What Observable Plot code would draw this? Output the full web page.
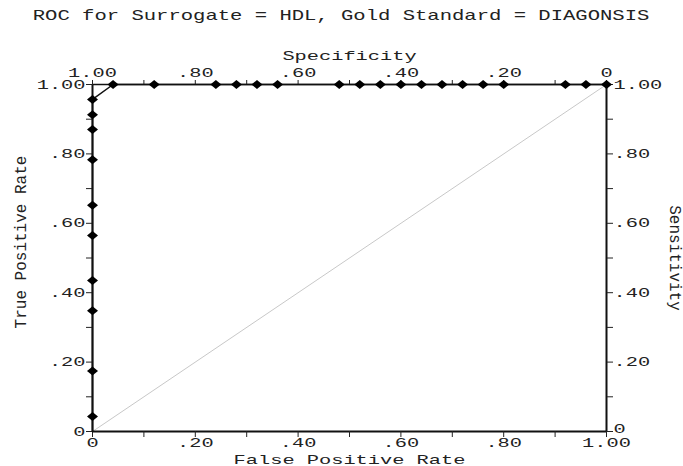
<!DOCTYPE html>
<html>
<head>
<meta charset="utf-8">
<script src="https://cdn.jsdelivr.net/npm/d3@7"></script>
<script src="https://cdn.jsdelivr.net/npm/@observablehq/plot@0.6"></script>
<style>
  html, body { margin: 0; padding: 0; background: #fff; }
  #title { height: 34px; font-family: "Liberation Mono", monospace; font-size: 15px; line-height: 34px; text-align: center; color: #222; }
  #title span { display: inline-block; transform: scaleX(1.37); }
</style>
</head>
<body>
<div id="title"><span>ROC for Surrogate = HDL, Gold Standard = DIAGONSIS</span></div>
<div id="chart"></div>
<script>
// Data
const tprAtZeroFpr = [0.043, 0.174, 0.348, 0.435, 0.565, 0.652, 0.783, 0.870, 0.913, 0.957];
const fprAtFullTpr = [0.04, 0.12, 0.24, 0.28, 0.32, 0.36, 0.48, 0.52, 0.56, 0.60, 0.64, 0.68, 0.72, 0.76, 0.80, 0.92, 0.96, 1.00];
const majorTicks = [0, 0.2, 0.4, 0.6, 0.8, 1.0];
const minorTicks = [0.1, 0.3, 0.5, 0.7, 0.9];
const xLabel = "False Positive Rate";
const yLabel = "True Positive Rate";
const topLabel = "Specificity";
const rightLabel = "Sensitivity";

const points = [
  ...tprAtZeroFpr.map(t => ({fpr: 0, tpr: t})),
  ...fprAtFullTpr.map(f => ({fpr: f, tpr: 1}))
];
const curve = [{fpr: 0, tpr: 0}, ...points];
const diagonal = [{fpr: 0, tpr: 0}, {fpr: 1, tpr: 1}];

const fmt = v => {
  const r = Math.round(v * 100) / 100;
  if (r === 0) return "0";
  if (r === 1) return "1.00";
  return d3.format(".2f")(r).slice(1);
};

const wideDiamond = {
  draw(ctx) {
    const w = 5.5, h = 4.5;
    ctx.moveTo(-w, 0); ctx.lineTo(0, -h); ctx.lineTo(w, 0); ctx.lineTo(0, h); ctx.closePath();
  }
};

const ink = "#222";
const mono = "'Liberation Mono', monospace";
const fs = 13;
const axisCommon = {tickSize: 6, stroke: ink, fill: ink, label: null, fontSize: fs};

const chart = Plot.plot({
  width: 683,
  height: 432,
  marginLeft: 92,
  marginRight: 77,
  marginTop: 50,
  marginBottom: 35,
  style: {fontFamily: mono, fontSize: fs + "px", color: ink, background: "#fff"},
  x: {domain: [0, 1]},
  y: {domain: [0, 1]},
  marks: [
    Plot.line(diagonal, {x: "fpr", y: "tpr", stroke: "#c8c8c8", strokeWidth: 1}),
    // axes frame lines
    Plot.ruleX([0], {stroke: "#111", strokeWidth: 2}),
    Plot.ruleY([0], {stroke: "#111", strokeWidth: 2}),
    Plot.ruleX([1], {stroke: "#111", strokeWidth: 2}),
    Plot.ruleY([1], {stroke: "#111", strokeWidth: 1.5}),
    // bottom axis
    Plot.axisX({...axisCommon, anchor: "bottom", ticks: majorTicks, tickFormat: fmt, tickSize: 0, tickPadding: 6}),
    Plot.axisX({...axisCommon, anchor: "bottom", ticks: [...majorTicks, ...minorTicks], tickFormat: () => ""}),
    // top axis (specificity)
    Plot.axisX({...axisCommon, anchor: "top", ticks: majorTicks, tickFormat: d => fmt(1 - d), tickSize: 0, tickPadding: 8}),
    Plot.axisX({...axisCommon, anchor: "top", ticks: [...majorTicks, ...minorTicks], tickFormat: () => "", tickSize: 5}),
    // left axis
    Plot.axisY({...axisCommon, anchor: "left", ticks: majorTicks, tickFormat: fmt, tickPadding: 1}),
    Plot.axisY({...axisCommon, anchor: "left", ticks: minorTicks, tickFormat: () => ""}),
    // right axis (sensitivity)
    Plot.axisY({...axisCommon, anchor: "right", ticks: majorTicks, tickFormat: () => ""}),
    Plot.axisY({...axisCommon, anchor: "right", ticks: majorTicks.slice(1), tickFormat: fmt, tickSize: 0, tickPadding: 7}),
    Plot.axisY({...axisCommon, anchor: "right", ticks: majorTicks.slice(0, 1), tickFormat: fmt, tickSize: 0, tickPadding: 7, dy: -3}),
    Plot.axisY({...axisCommon, anchor: "right", ticks: minorTicks, tickFormat: () => ""}),
    // ROC curve
    Plot.line(curve, {x: "fpr", y: "tpr", stroke: "#111", strokeWidth: 1.5}),
    Plot.dot(points, {x: "fpr", y: "tpr", symbol: wideDiamond, fill: "#000", stroke: "none"}),
    // axis titles
    Plot.text([xLabel], {text: d => d, frameAnchor: "bottom", textAnchor: "middle", dy: 32, fill: ink, fontSize: 13, fontFamily: mono}),
    Plot.text([topLabel], {text: d => d, frameAnchor: "top", textAnchor: "middle", dy: -34, fill: ink, fontSize: 13, fontFamily: mono}),
    Plot.text([yLabel], {text: d => d, frameAnchor: "left", textAnchor: "middle", dx: -72, dy: -16, rotate: -90, fill: ink, fontSize: 16, fontFamily: mono}),
    Plot.text([rightLabel], {text: d => d, frameAnchor: "right", textAnchor: "middle", dx: 69, dy: 0, rotate: 90, fill: ink, fontSize: 16, fontFamily: mono})
  ]
});

document.getElementById("chart").appendChild(chart);

// Reference glyphs are horizontally stretched: every horizontal character advances about 12.2px
const advance = 12.2;
chart.querySelectorAll("text").forEach(t => {
  const tr = (t.getAttribute("transform") || "") + (t.parentNode.getAttribute("transform") || "");
  if (tr.includes("rotate")) return;
  const n = t.textContent.length;
  if (n > 0) {
    t.setAttribute("textLength", (n * advance).toFixed(1));
    t.setAttribute("lengthAdjust", "spacingAndGlyphs");
  }
});
</script>
</body>
</html>
